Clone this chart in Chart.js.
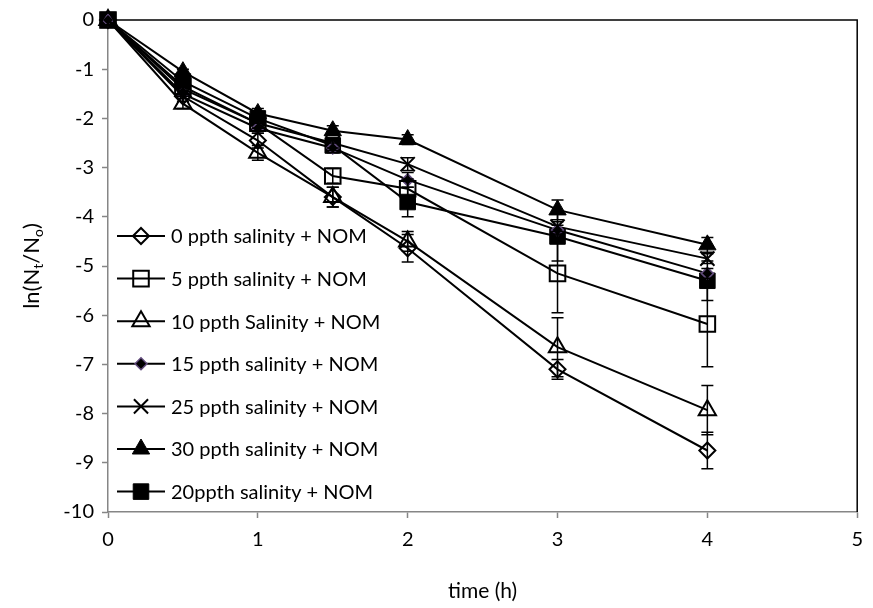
<!DOCTYPE html>
<html>
<head>
<meta charset="utf-8">
<script src="https://cdn.jsdelivr.net/npm/chart.js@4.4.0/dist/chart.umd.min.js"></script>
<style>
  body { margin: 0; background: #fff; }
</style>
</head>
<body>
<canvas id="myChart" width="873" height="608"></canvas>
<script>
// sampling times (h)
const times = [0, 0.5, 1, 1.5, 2, 3, 4];

// ln(Nt/No) per salinity level
const s0  = [0, -1.55, -2.45, -3.6,  -4.64, -7.1,  -8.75];
const s5  = [0, -1.35, -2.1,  -3.17, -3.43, -5.15, -6.18];
const s10 = [0, -1.7,  -2.7,  -3.6,  -4.5,  -6.65, -7.93];
const s15 = [0, -1.5,  -2.2,  -2.6,  -3.25, -4.27, -5.15];
const s25 = [0, -1.4,  -2.1,  -2.5,  -2.93, -4.2,  -4.85];
const s30 = [0, -1.05, -1.9,  -2.25, -2.43, -3.86, -4.57];
const s20 = [0, -1.25, -2.0,  -2.55, -3.7,  -4.4,  -5.3];

// error bar half-lengths
const e0  = [0, 0.1,  0.15, 0.2,  0.28, 0.2,  0.37];
const e5  = [0, 0.1,  0.1,  0.15, 0.2,  0.8,  0.87];
const e10 = [0, 0.1,  0.15, 0.2,  0.2,  0.6,  0.5];
const e15 = [0, 0.05, 0.1,  0.1,  0.15, 0.1,  0.1];
const e25 = [0, 0.05, 0.1,  0.1,  0.13, 0.1,  0.1];
const e30 = [0, 0.05, 0.1,  0.1,  0.1,  0.2,  0.15];
const e20 = [0, 0.1,  0.1,  0.1,  0.3,  0.5,  0.4];

const labels = [
  '0 ppth salinity + NOM',
  '5 ppth salinity + NOM',
  '10 ppth Salinity + NOM',
  '15 ppth salinity + NOM',
  '25 ppth salinity + NOM',
  '30 ppth salinity + NOM',
  '20ppth salinity + NOM'
];
const values = [s0, s5, s10, s15, s25, s30, s20];
const errors = [e0, e5, e10, e15, e25, e30, e20];

const clear = 'rgba(0,0,0,0)';
const styles = [
  { shape: 'rectRot',  r: 8,  fill: clear,  line: '#000', bw: 2 },
  { shape: 'rect',     r: 11, fill: clear,  line: '#000', bw: 2 },
  { shape: 'triangle', r: 10, fill: clear,  line: '#000', bw: 2 },
  { shape: 'rectRot',  r: 6,  fill: '#000', line: '#604a7b', bw: 1.5 },
  { shape: 'crossRot', r: 10, fill: clear,  line: '#000', bw: 2 },
  { shape: 'triangle', r: 10, fill: '#000', line: '#000', bw: 1 },
  { shape: 'rect',     r: 11, fill: '#000', line: '#000', bw: 1 }
];

const fontFam = 'Lato, "Open Sans", sans-serif';
const fontSize = 20;

const datasets = labels.map((lab, i) => ({
  label: lab,
  data: values[i].map((v, j) => ({ x: times[j], y: v })),
  showLine: true,
  clip: false,
  borderColor: '#000',
  borderWidth: 2,
  pointStyle: styles[i].shape,
  pointRadius: styles[i].r,
  pointBackgroundColor: styles[i].fill,
  pointBorderColor: styles[i].line,
  pointBorderWidth: styles[i].bw,
  pointHoverRadius: styles[i].r
}));

const errorBars = {
  id: 'errorBars',
  afterDatasetsDraw(chart) {
    const ctx = chart.ctx;
    const xs = chart.scales.x, ys = chart.scales.y;
    ctx.save();
    ctx.strokeStyle = '#000';
    ctx.lineWidth = 1.5;
    values.forEach((arr, i) => {
      arr.forEach((v, j) => {
        const e = errors[i][j];
        if (!e) return;
        const x = xs.getPixelForValue(times[j]);
        const y1 = ys.getPixelForValue(v + e);
        const y2 = ys.getPixelForValue(v - e);
        ctx.beginPath();
        ctx.moveTo(x, y1); ctx.lineTo(x, y2);
        ctx.moveTo(x - 6, y1); ctx.lineTo(x + 6, y1);
        ctx.moveTo(x - 6, y2); ctx.lineTo(x + 6, y2);
        ctx.stroke();
      });
    });
    ctx.restore();
  }
};

const frameAndText = {
  id: 'frameAndText',
  beforeDatasetsDraw(chart) {
    const ctx = chart.ctx;
    const a = chart.chartArea;
    ctx.save();
    // top and right border
    ctx.strokeStyle = '#000';
    ctx.lineWidth = 1.5;
    ctx.beginPath();
    ctx.moveTo(a.left, a.top); ctx.lineTo(a.right, a.top); ctx.lineTo(a.right, a.bottom);
    ctx.stroke();
    ctx.restore();
  },
  afterDraw(chart) {
    const ctx = chart.ctx;
    const a = chart.chartArea;
    ctx.save();
    // legend inside plot
    ctx.font = fontSize + 'px ' + fontFam;
    ctx.textBaseline = 'middle';
    ctx.fillStyle = '#000';
    labels.forEach((lab, i) => {
      const y = 236 + i * 42.6;
      ctx.strokeStyle = '#000';
      ctx.lineWidth = 2;
      ctx.beginPath();
      ctx.moveTo(117, y); ctx.lineTo(165, y);
      ctx.stroke();
      ctx.fillStyle = styles[i].fill;
      ctx.strokeStyle = styles[i].line;
      ctx.lineWidth = styles[i].bw;
      Chart.helpers.drawPoint(ctx, { pointStyle: styles[i].shape, radius: styles[i].r, rotation: 0, borderWidth: styles[i].bw }, 141, y);
      ctx.fillStyle = '#000';
      ctx.fillText(lab, 171, y + 1);
    });

    // y axis title with subscripts
    const big = fontSize + 2;
    const small = Math.round(big * 0.65);
    const parts = [
      { t: 'ln(N', s: false }, { t: 't', s: true },
      { t: '/N', s: false }, { t: 'o', s: true }, { t: ')', s: false }
    ];
    let total = 0;
    parts.forEach(p => {
      ctx.font = (p.s ? small : big) + 'px ' + fontFam;
      p.w = ctx.measureText(p.t).width;
      total += p.w;
    });
    ctx.translate(32, (a.top + a.bottom) / 2);
    ctx.rotate(-Math.PI / 2);
    ctx.textBaseline = 'alphabetic';
    ctx.fillStyle = '#000';
    let x = -total / 2;
    parts.forEach(p => {
      ctx.font = (p.s ? small : big) + 'px ' + fontFam;
      ctx.fillText(p.t, x, p.s ? 11 : 7);
      x += p.w;
    });
    ctx.restore();
  }
};

new Chart(document.getElementById('myChart').getContext('2d'), {
  type: 'scatter',
  data: { datasets: datasets },
  options: {
    responsive: false,
    animation: false,
    layout: { padding: { top: 16, right: 10, left: 0, bottom: 0 } },
    plugins: {
      legend: { display: false },
      tooltip: { enabled: false }
    },
    scales: {
      x: {
        type: 'linear',
        min: 0, max: 5,
        afterFit(scale) { scale.height = 96; },
        ticks: { stepSize: 1, color: '#000', font: { size: fontSize, family: fontFam }, padding: 10 },
        grid: { drawOnChartArea: false, color: '#868686', tickLength: 6, tickWidth: 1.5 },
        border: { color: '#868686', width: 1.5 },
        title: { display: true, text: 'time (h)', color: '#000', font: { size: fontSize + 1, family: fontFam }, padding: { top: 18 } }
      },
      y: {
        type: 'linear',
        min: -10, max: 0,
        afterFit(scale) { scale.width = 108; },
        ticks: { stepSize: 1, color: '#000', font: { size: fontSize, family: fontFam }, padding: 8 },
        grid: { drawOnChartArea: false, color: '#868686', tickLength: 6, tickWidth: 1.5 },
        border: { color: '#868686', width: 1.5 }
      }
    }
  },
  plugins: [errorBars, frameAndText]
});
</script>
</body>
</html>
